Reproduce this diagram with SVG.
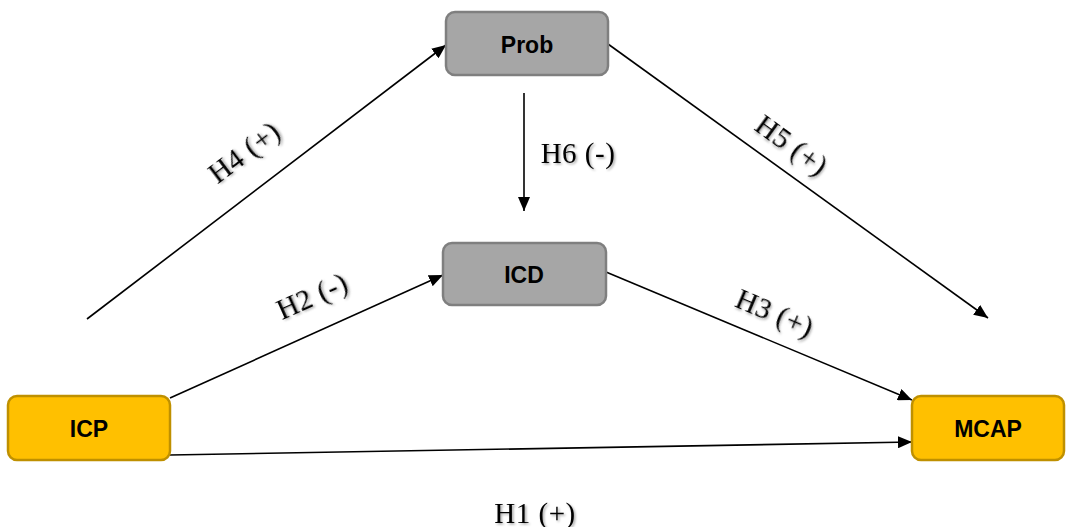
<svg xmlns="http://www.w3.org/2000/svg" width="1066" height="527" viewBox="0 0 1066 527">
<defs>
<marker id="ah" viewBox="0 0 14 12" refX="14" refY="6" markerWidth="14" markerHeight="12" markerUnits="userSpaceOnUse" orient="auto">
<path d="M0,0 L14,6 L0,12 z" fill="#000"/>
</marker>
<filter id="sh" x="-10%" y="-20%" width="130%" height="150%">
<feDropShadow dx="1.5" dy="1.5" stdDeviation="0.8" flood-color="#000" flood-opacity="0.35"/>
</filter>
</defs>
<style>
.grey{fill:#a6a6a6;stroke:#7f7f7f;stroke-width:2.5}
.gold{fill:#ffc000;stroke:#bf9000;stroke-width:2.5}
.nt{font-family:"Liberation Sans",Arial,sans-serif;font-weight:bold;font-size:23px;fill:#000;text-anchor:middle;dominant-baseline:central}
.lab{font-family:"Liberation Serif","Times New Roman",serif;font-size:29px;letter-spacing:0.5px;fill:#000;text-anchor:middle;filter:url(#sh)}
.c{stroke:#000;stroke-width:1.6;fill:none;marker-end:url(#ah)}
</style>
<g id="connectors">
<line class="c" x1="87" y1="319" x2="446" y2="45"/>
<line class="c" x1="608" y1="44" x2="988" y2="318"/>
<line class="c" x1="524" y1="93" x2="524" y2="211"/>
<line class="c" x1="170" y1="398" x2="443" y2="275"/>
<line class="c" x1="606" y1="272" x2="912" y2="400"/>
<line class="c" x1="170" y1="455" x2="912" y2="442"/>
</g>
<g id="labels">
<text class="lab" transform="translate(250,160) rotate(-37)">H4 (+)</text>
<text class="lab" transform="translate(786,153) rotate(36)">H5 (+)</text>
<text class="lab" x="578" y="163">H6 (-)</text>
<text class="lab" transform="translate(316,305) rotate(-24)">H2 (-)</text>
<text class="lab" transform="translate(771,322) rotate(23)">H3 (+)</text>
<text class="lab" x="535" y="523">H1 (+)</text>
</g>
<g id="node-prob">
<rect class="grey" x="446" y="12" width="162" height="63" rx="9"/>
<text class="nt" x="527" y="45">Prob</text>
</g>
<g id="node-icd">
<rect class="grey" x="443" y="243" width="163" height="62" rx="9"/>
<text class="nt" x="524" y="275">ICD</text>
</g>
<g id="node-icp">
<rect class="gold" x="8" y="396" width="162" height="64" rx="9"/>
<text class="nt" x="89" y="429">ICP</text>
</g>
<g id="node-mcap">
<rect class="gold" x="912" y="396" width="152" height="64" rx="9"/>
<text class="nt" x="988" y="429">MCAP</text>
</g>
</svg>
